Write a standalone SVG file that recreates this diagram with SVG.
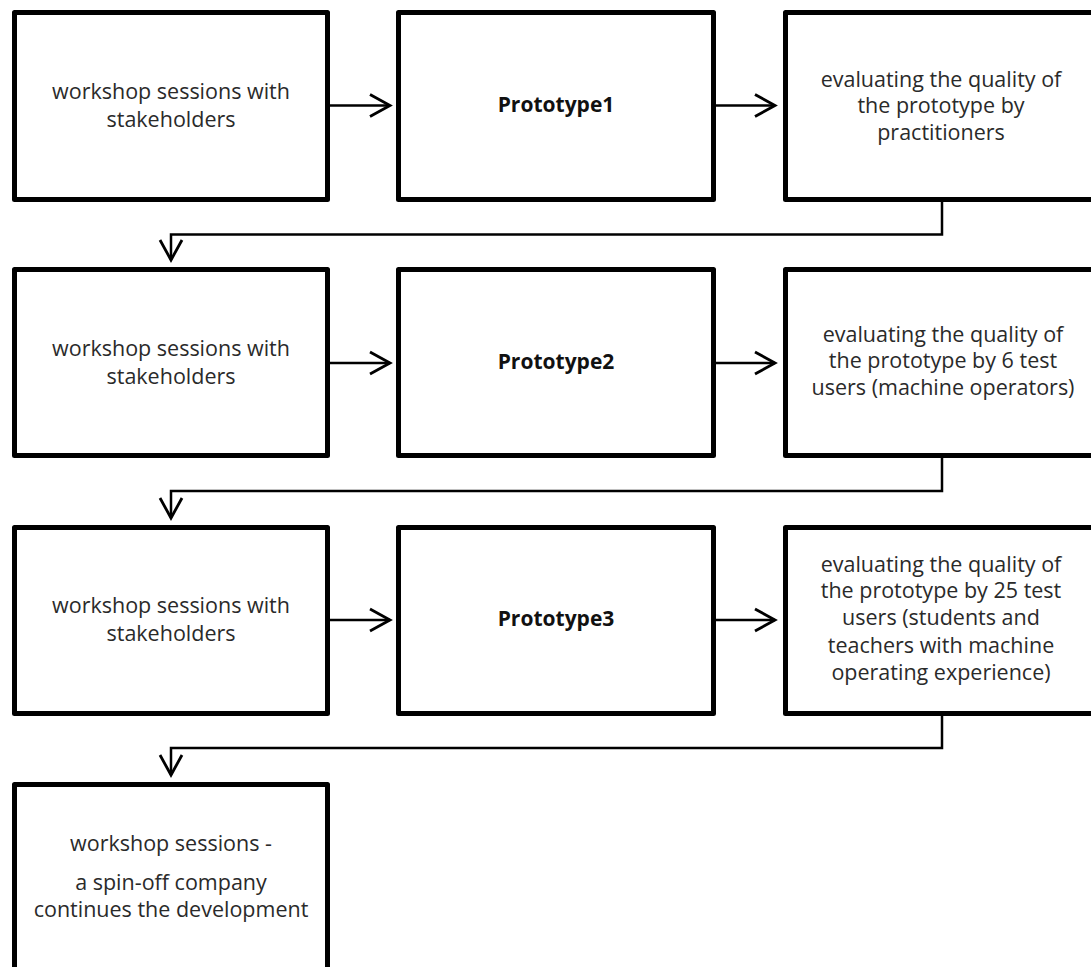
<svg xmlns="http://www.w3.org/2000/svg" width="1091" height="967" viewBox="0 0 1091 967">
<defs>
<style>
.box{fill:#fff;stroke:#000;stroke-width:5;stroke-linejoin:round}
.t{font-family:"Open Sans","Liberation Sans",sans-serif;font-size:21.5px;fill:#2a2a2a;text-anchor:middle}
.b{font-family:"Open Sans","Liberation Sans",sans-serif;font-size:21px;font-weight:bold;fill:#111;text-anchor:middle}
.c{fill:none;stroke:#000;stroke-width:2.5}
</style>
<marker id="arr" viewBox="-22 -13 26 26" markerWidth="26" markerHeight="26" refX="0" refY="0" orient="auto" markerUnits="userSpaceOnUse">
<path d="M-20,-11 L0,0 L-20,11" fill="none" stroke="#000" stroke-width="2.8"/>
</marker>
</defs>
<rect width="1091" height="967" fill="#fff"/>
<g id="n1"><rect class="box" x="14.5" y="12.5" width="313" height="187"/><text class="t" x="171" y="99">workshop sessions with</text><text class="t" x="171" y="127">stakeholders</text></g>
<g id="n2"><rect class="box" x="398.5" y="12.5" width="315" height="187"/><text class="b" x="556" y="112">Prototype1</text></g>
<g id="n3"><rect class="box" x="785.5" y="12.5" width="313" height="187"/><text class="t" x="941" y="86.5">evaluating the quality of</text><text class="t" x="941" y="113">the prototype by</text><text class="t" x="941" y="139.5">practitioners</text></g>
<g id="n4"><rect class="box" x="14.5" y="269.5" width="313" height="186"/><text class="t" x="171" y="356">workshop sessions with</text><text class="t" x="171" y="384">stakeholders</text></g>
<g id="n5"><rect class="box" x="398.5" y="269.5" width="315" height="186"/><text class="b" x="556" y="369">Prototype2</text></g>
<g id="n6"><rect class="box" x="785.5" y="269.5" width="313" height="186"/><text class="t" x="943" y="341.5">evaluating the quality of</text><text class="t" x="943" y="368">the prototype by 6 test</text><text class="t" x="943" y="395">users (machine operators)</text></g>
<g id="n7"><rect class="box" x="14.5" y="527.5" width="313" height="186"/><text class="t" x="171" y="613">workshop sessions with</text><text class="t" x="171" y="641">stakeholders</text></g>
<g id="n8"><rect class="box" x="398.5" y="527.5" width="315" height="186"/><text class="b" x="556" y="626">Prototype3</text></g>
<g id="n9"><rect class="box" x="785.5" y="527.5" width="313" height="186"/><text class="t" x="941" y="571.5">evaluating the quality of</text><text class="t" x="941" y="598">the prototype by 25 test</text><text class="t" x="941" y="625">users (students and</text><text class="t" x="941" y="652.5">teachers with machine</text><text class="t" x="941" y="679.5">operating experience)</text></g>
<g id="n10"><rect class="box" x="14.5" y="784.5" width="313" height="200"/><text class="t" x="171" y="851">workshop sessions -</text><text class="t" x="171" y="889.5">a spin-off company</text><text class="t" x="171" y="916.5">continues the development</text></g>
<g id="connectors">
<path class="c" d="M330,105.5 H390" marker-end="url(#arr)"/>
<path class="c" d="M716,105.5 H775" marker-end="url(#arr)"/>
<path class="c" d="M330,363 H390" marker-end="url(#arr)"/>
<path class="c" d="M716,363 H775" marker-end="url(#arr)"/>
<path class="c" d="M330,620 H390" marker-end="url(#arr)"/>
<path class="c" d="M716,620 H775" marker-end="url(#arr)"/>
<path class="c" d="M942,202 V234.5 H171 V260" marker-end="url(#arr)"/>
<path class="c" d="M942,458 V491 H171 V518" marker-end="url(#arr)"/>
<path class="c" d="M942,716 V748 H171 V775" marker-end="url(#arr)"/>
</g>
</svg>
